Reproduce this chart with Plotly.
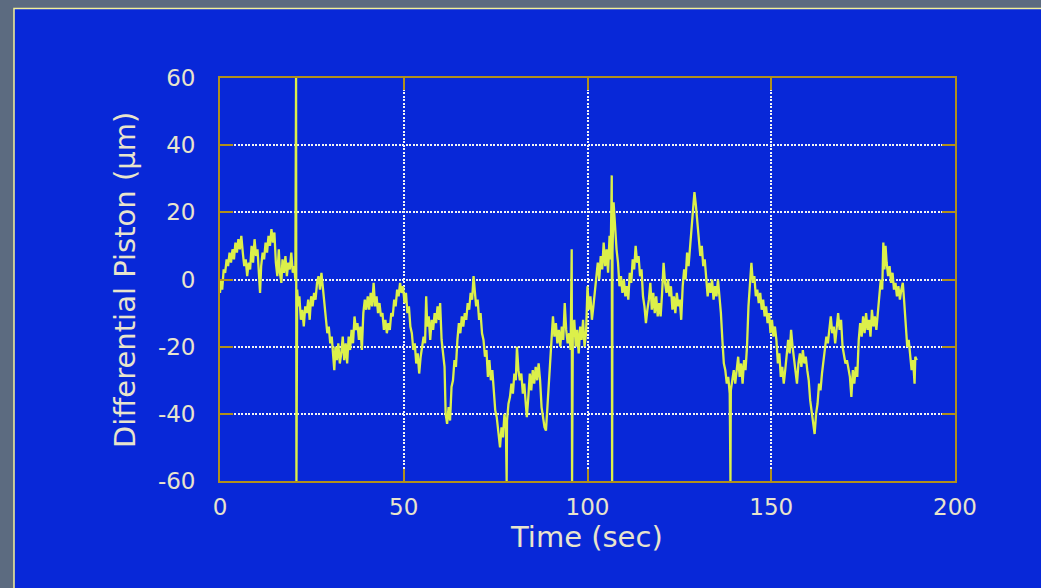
import plotly.graph_objects as go

# Differential piston record: time (s) and piston (um)
time_s = [
    0.0, 0.3, 0.6, 1.0, 1.4, 1.8, 2.2, 2.6, 3.0, 3.4, 3.8, 4.2, 4.6, 5.0, 5.4, 5.8, 6.2, 6.6, 7.0, 7.4,
    7.8, 8.2, 8.6, 9.0, 9.4, 9.8, 10.2, 10.6, 10.9, 11.2, 11.6, 12.0, 12.4, 12.8, 13.2, 13.6, 14.0, 14.4, 14.8, 15.2,
    15.6, 16.0, 16.3, 16.7, 17.0, 17.4, 17.8, 18.2, 18.6, 19.0, 19.4, 19.8, 20.2, 20.5, 20.7, 20.8, 21.0,
    21.3, 21.6, 22.0, 22.4, 22.8, 23.2, 23.6, 24.0, 24.4, 24.8, 25.2, 25.6, 26.0, 26.4, 26.8, 27.2, 27.6, 28.0, 28.4,
    28.8, 29.2, 29.6, 30.0, 30.4, 30.8, 31.1, 31.4, 31.8, 32.2, 32.6, 33.0, 33.4, 33.8, 34.2, 34.6, 35.0, 35.4, 35.8,
    36.2, 36.6, 37.0, 37.4, 37.8, 38.2, 38.6, 39.0, 39.4, 39.8, 40.2, 40.6, 41.0, 41.4, 41.8, 42.2, 42.6, 43.0, 43.4,
    43.8, 44.2, 44.6, 45.0, 45.4, 45.8, 46.2, 46.6, 47.0, 47.4, 47.8, 48.2, 48.6, 49.0, 49.4, 49.8, 50.2, 50.6,
    51.0, 51.4, 51.8, 52.2, 52.6, 53.0, 53.4, 53.8, 54.2, 54.6, 55.0, 55.4, 55.8, 56.1, 56.4, 56.8, 57.2, 57.6, 58.0,
    58.4, 58.8, 59.2, 59.6, 59.9, 60.3, 60.7, 61.1, 61.4, 61.8, 62.2, 62.6, 63.0, 63.4, 63.8, 64.2, 64.6, 65.0, 65.4,
    65.8, 66.2, 66.6, 67.0, 67.4, 67.8, 68.2, 68.6, 69.0, 69.3, 69.7, 70.1, 70.5, 70.9, 71.3, 71.7, 72.1, 72.5, 72.9,
    73.3, 73.7, 74.1, 74.5, 74.9, 75.3, 75.7, 76.2, 76.6, 77.0, 77.4, 77.8, 78.0, 78.1, 78.5, 78.9, 79.3, 79.7, 80.1,
    80.5, 80.8, 81.2, 81.6, 82.0, 82.4, 82.8, 83.2, 83.5, 83.9, 84.3, 84.7, 85.1, 85.5, 85.9, 86.3, 86.7, 87.1, 87.5,
    87.9, 88.3, 88.7, 89.1, 89.5, 89.9, 90.2, 90.6, 91.0, 91.4, 91.8, 92.2, 92.6, 93.0, 93.4, 93.8, 94.2, 94.6, 95.0,
    95.4, 95.7, 95.8, 96.0, 96.4, 96.8, 97.2, 97.6, 98.0, 98.4, 98.8, 99.2, 99.6,
    100.0, 100.4, 100.8, 101.2, 101.6, 102.0, 102.4, 102.8, 103.2, 103.6, 104.0, 104.4, 104.8, 105.2, 105.6, 106.0,
    106.3, 106.6, 106.7, 106.8, 107.1, 107.5, 107.9, 108.3, 108.7, 109.1, 109.5, 109.9, 110.3, 110.7, 111.1, 111.5,
    111.9, 112.3, 112.7, 113.1, 113.5, 113.9, 114.3, 114.7, 115.1, 115.5, 115.9, 116.3, 116.7, 117.1, 117.5, 117.9,
    118.3, 118.7, 119.1, 119.5, 119.9, 120.3, 120.7, 121.1, 121.5, 121.9, 122.3, 122.7, 123.1, 123.5, 123.9, 124.3,
    124.7, 125.1, 125.5, 125.9, 126.3, 126.7, 127.1, 127.5, 127.9, 128.3, 128.7, 129.1, 129.5, 129.9, 130.3, 130.7,
    131.1, 131.5, 131.9, 132.3, 132.7, 133.1, 133.5, 133.9, 134.3, 134.7, 135.1, 135.5, 135.9, 136.3, 136.7, 137.1,
    137.5, 137.9, 138.3, 138.7, 138.9, 139.0, 139.4, 139.8, 140.2, 140.6, 141.0, 141.4, 141.8, 142.2, 142.6, 143.0,
    143.4, 143.8, 144.2, 144.6, 145.0, 145.4, 145.8, 146.2, 146.6, 147.0, 147.4, 147.8, 148.2, 148.6, 149.0, 149.4,
    149.8, 150.2, 150.6, 151.0,
    151.4, 151.8, 152.2, 152.6, 153.0, 153.4, 153.8, 154.2, 154.6, 155.0, 155.4, 155.8, 156.2, 156.6, 157.0, 157.4,
    157.8, 158.2, 158.6, 159.0, 159.4, 159.8, 160.2, 160.6, 161.0, 161.4, 161.8, 162.2, 162.6, 163.0, 163.4, 163.8,
    164.2, 164.6, 165.0, 165.4, 165.8, 166.2, 166.6, 167.0, 167.4, 167.8, 168.2, 168.6, 169.0, 169.4, 169.8, 170.2,
    170.6, 171.0, 171.4, 171.8, 172.2, 172.6, 173.0, 173.4, 173.8, 174.2, 174.6, 175.0, 175.4, 175.8, 176.2, 176.6,
    177.0, 177.4, 177.8, 178.2, 178.6, 179.0, 179.4, 179.8, 180.2, 180.5, 180.8, 181.1, 181.4, 181.8, 182.2, 182.6,
    183.0, 183.4, 183.8, 184.2, 184.6, 185.0, 185.4, 185.8, 186.2, 186.6, 187.0, 187.4, 187.8, 188.2, 188.6, 189.0,
    189.2, 189.6,
]

piston_um = [
    -4, 0, -3, 3, 2, 6, 4, 8, 5, 9, 6, 11, 8, 12, 9, 13, 8, 4, 6, 1,
    5, 3, 10, 5, 12, 7, 9, 3, -4, 4, 8, 6, 11, 8, 13, 10, 15, 11, 14, 5,
    1, 9, 2, -1, 6, 2, 7, 1, 5, 3, 8, 2, 4, 0, 60, -60, -3,
    -8, -5, -12, -9, -14, -8, -10, -6, -12, -5, -8, -4, -6, -1, 1, -3, 2, -2, -6,
    -12, -16, -14, -19, -17, -23, -27, -20, -24, -19, -25, -22, -17, -24, -19, -25, -17, -21, -15,
    -19, -11, -15, -13, -18, -14, -21, -10, -6, -9, -5, -9, -4, -8, -1, -8, -5, -10, -7,
    -11, -10, -15, -12, -16, -13, -15, -10, -11, -6, -8, -3, -5, -1, -4, -2, -7, -4,
    -10, -8, -14, -16, -21, -19, -25, -22, -28, -23, -20, -17, -19, -5, -14, -11, -18, -12, -15,
    -10, -13, -8, -12, -7, -18, -22, -26, -40, -43, -38, -42, -32, -30, -24, -26, -18, -13, -16,
    -11, -14, -10, -12, -7, -9, -4, -6, 1, -3, -8, -6, -12, -10, -16, -18, -23, -21, -29,
    -24, -30, -27, -33, -39, -41, -45, -50, -44, -47, -40, -44, -60, -42, -37, -35, -31, -34, -28,
    -30, -20, -27, -30, -28, -34, -31, -37, -41, -35, -28, -33, -27, -31, -26, -30, -25, -30, -38,
    -41, -44, -45, -38, -33, -25, -21, -11, -17, -13, -19, -15, -20, -14, -18, -7, -15, -19, -16,
    -21, 9, -60, -17, -12, -20, -15, -22, -14, -18, -12, -20, -16,
    -2, -9, -5, -12, -8, -4, 1, 5, 0, 7, 3, 11, 4, 9, 2, 13,
    6, 31, -60, 8, 23, 15, 9, 5, -2, 1, -4, 0, -5, -2, -6, 2,
    -1, 6, 3, 10, 5, 7, 1, 3, -5, -8, -13, -9, -6, -1, -9, -4,
    -10, -5, -11, -7, -11, -4, 5, -1, -4, 0, -5, -2, -9, -5, -10, -4,
    -8, -6, -12, -2, 3, 0, 8, 4, 10, 14, 20, 26, 22, 17, 13, 7,
    10, 4, 6, 0, -5, -1, -4, 0, -6, -2, -5, 0, -4, -10, -18, -25,
    -27, -31, -29, -34, -60, -33, -30, -27, -31, -26, -23, -29, -25, -31, -24, -27,
    -20, -8, -2, 5, -1, 1, -5, -3, -7, -4, -9, -6, -11, -8, -13, -10,
    -16, -12, -17, -14,
    -18, -25, -22, -29, -26, -31, -27, -23, -18, -22, -15, -20, -24, -28, -31, -25,
    -22, -26, -21, -25, -23, -27, -30, -36, -40, -43, -46, -40, -37, -31, -33, -28,
    -24, -21, -17, -19, -14, -11, -16, -14, -19, -14, -10, -15, -12, -20, -22, -25,
    -24, -27, -29, -35, -27, -31, -26, -29, -18, -13, -17, -11, -16, -10, -15, -12,
    -17, -9, -14, -11, -15, -10, -4, 0, -3, 11, 3, 10, 5, 1, 4, -1,
    2, -3, -1, -5, -2, -6, -3, -1, -7, -14, -20, -18, -24, -27, -24, -31,
    -23, -24,
]

x_ticks = [0, 50, 100, 150, 200]
x_tick_labels = ["0", "50", "100", "150", "200"]
y_ticks = [-60, -40, -20, 0, 20, 40, 60]
y_tick_labels = ["-60", "-40", "-20", "0", "20", "40", "60"]

x_title = "Time (sec)"
y_title = "Differential Piston (μm)"

PANEL_BLUE = "#0828D8"
FRAME_GOLD = "#B0901E"
TRACE = "#DCF04A"
LABEL = "#E8E4CC"
FONT = "DejaVu Sans"

W, H = 1041, 588
L, R, T, B = 220, 86, 78, 107
pw, ph = W - L - R, H - T - B


def px_to_paper_x(px):
    return (px - L) / pw


def py_to_paper_y(py):
    return (H - B - py) / ph


fig = go.Figure()
fig.add_trace(go.Scatter(
    x=time_s, y=piston_um, mode="lines",
    line=dict(color=TRACE, width=2.3),
    hoverinfo="skip", showlegend=False,
))

# blue slide panel with a thin pale edge
fig.add_shape(
    type="rect", xref="paper", yref="paper", layer="below",
    x0=px_to_paper_x(14), x1=px_to_paper_x(W + 10),
    y0=py_to_paper_y(H + 10), y1=py_to_paper_y(8.5),
    fillcolor=PANEL_BLUE, line=dict(color="#F2F09A", width=1.5),
)

axis_common = dict(
    showgrid=True, gridcolor="#F4F4F4", gridwidth=1.5, griddash="2px,1.5px",
    zeroline=False, showline=True, linecolor=FRAME_GOLD, linewidth=1.8,
    mirror="ticks", ticks="inside", tickcolor=FRAME_GOLD, tickwidth=1.8,
    tickfont=dict(family=FONT, size=23, color=LABEL),
)

fig.update_xaxes(range=[0, 200], tickvals=x_ticks, ticktext=x_tick_labels,
                 ticklen=12, ticklabelstandoff=4, **axis_common)
fig.update_yaxes(range=[-60, 60], tickvals=y_ticks, ticktext=y_tick_labels,
                 ticklen=13, ticklabelstandoff=18, **axis_common)

fig.add_annotation(
    text=x_title, xref="paper", yref="paper",
    x=px_to_paper_x(586), y=py_to_paper_y(537),
    showarrow=False, xanchor="center", yanchor="middle",
    font=dict(family=FONT, size=29, color=LABEL),
)
fig.add_annotation(
    text=y_title, xref="paper", yref="paper",
    x=px_to_paper_x(125), y=py_to_paper_y(280),
    showarrow=False, textangle=-90, xanchor="center", yanchor="middle",
    font=dict(family=FONT, size=29, color=LABEL),
)

fig.update_layout(
    width=W, height=H,
    margin=dict(l=L, r=R, t=T, b=B, autoexpand=False),
    paper_bgcolor="#5C6B80",
    plot_bgcolor="rgba(0,0,0,0)",
    showlegend=False,
)

fig.write_html("out.html")
